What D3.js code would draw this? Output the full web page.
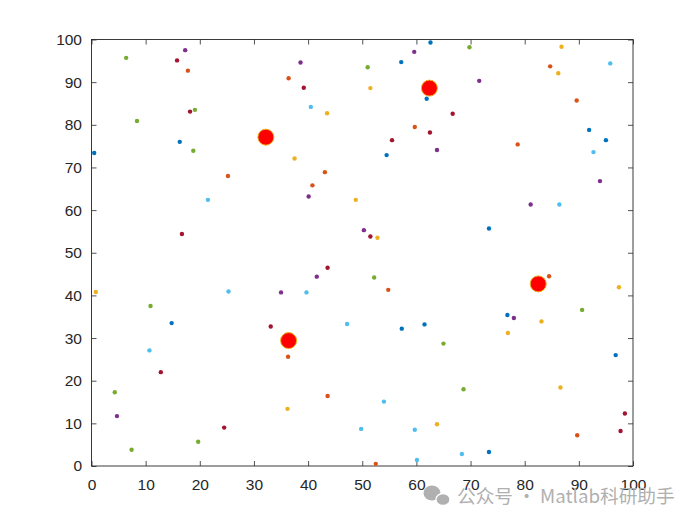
<!DOCTYPE html>
<html>
<head>
<meta charset="utf-8">
<script src="https://cdn.jsdelivr.net/npm/d3@7"></script>
<style>
  body { margin: 0; background: #fff; }
  svg { display: block; }
</style>
</head>
<body>
<script>
// points, grouped by MATLAB colour order
const bluePts = [[0.5,73.4],[16.3,76.0],[62.6,99.3],[57.2,94.7],[61.9,86.1],[54.5,72.9],[91.9,78.8],[95.0,76.4],[73.4,55.7],[14.8,33.5],[76.8,35.4],[57.3,32.2],[61.5,33.2],[96.8,26.0],[73.4,3.3]];
const orangePts = [[17.8,92.7],[36.4,90.9],[25.2,68.0],[43.1,68.9],[40.8,65.8],[59.7,79.5],[84.7,93.7],[89.6,85.7],[78.7,75.4],[36.3,25.6],[43.6,16.4],[54.8,41.3],[84.5,44.5],[89.7,7.2],[52.5,0.5]];
const yellowPts = [[43.5,82.7],[37.5,72.1],[48.8,62.4],[51.5,88.6],[86.8,98.3],[86.2,92.1],[52.8,53.5],[0.8,40.8],[36.2,13.4],[97.4,41.9],[83.1,33.9],[76.9,31.2],[86.6,18.4],[63.8,9.8]];
const purplePts = [[17.3,97.5],[38.6,94.6],[40.1,63.2],[50.3,55.3],[59.6,97.1],[71.6,90.3],[63.8,74.1],[93.9,66.8],[81.1,61.3],[35.0,40.7],[41.6,44.4],[4.7,11.7],[78.0,34.7]];
const greenPts = [[6.4,95.7],[8.4,80.9],[19.1,83.5],[18.8,73.9],[69.8,98.2],[51.0,93.5],[10.9,37.5],[4.3,17.3],[19.7,5.7],[7.4,3.8],[52.2,44.2],[90.6,36.6],[65.0,28.7],[68.7,18.0]];
const cyanPts = [[40.5,84.2],[21.5,62.4],[95.8,94.4],[92.7,73.6],[86.4,61.3],[25.3,40.9],[39.7,40.7],[47.2,33.3],[10.7,27.1],[49.8,8.7],[54.0,15.1],[59.7,8.5],[68.4,2.8],[60.1,1.4]];
const darkredPts = [[15.8,95.1],[39.2,88.7],[18.2,83.1],[16.7,54.4],[66.7,82.6],[62.5,78.2],[55.5,76.4],[51.5,53.8],[43.6,46.5],[33.1,32.7],[12.8,22.0],[24.5,9.0],[98.5,12.3],[97.7,8.2]];
const bigPts = [[32.2,77.1],[62.4,88.6],[36.4,29.4],[82.5,42.7]];
const tickVals = [0,10,20,30,40,50,60,70,80,90,100];

const series = [
  {pts: bluePts, color: "#0072BD"},
  {pts: orangePts, color: "#D95319"},
  {pts: yellowPts, color: "#EDB120"},
  {pts: purplePts, color: "#7E2F8E"},
  {pts: greenPts, color: "#77AC30"},
  {pts: cyanPts, color: "#4DBEEE"},
  {pts: darkredPts, color: "#A2142F"}
];

const W = 700, H = 525;
const m = {left: 91.5, right: 67, top: 39.5, bottom: 59};

const svg = d3.select("body").append("svg")
  .attr("width", W).attr("height", H)
  .style("font-family", "'Liberation Sans', Arial, sans-serif");

const x = d3.scaleLinear().domain([0, 100]).range([m.left, W - m.right]);
const y = d3.scaleLinear().domain([0, 100]).range([H - m.bottom, m.top]);

const axisColor = "#262626";
const tl = 5;

function styleAxis(g) {
  g.select(".domain").remove();
  g.selectAll(".tick line").attr("stroke", axisColor).attr("stroke-width", 0.8);
  g.selectAll(".tick text").attr("fill", axisColor).style("font-size", "15.5px");
}

// bottom / left with labels, top / right ticks only (inward)
svg.append("g").attr("transform", `translate(0,${y(0)})`)
  .call(d3.axisBottom(x).tickValues(tickVals).tickSizeInner(-tl).tickSizeOuter(0).tickPadding(13))
  .call(styleAxis);
svg.append("g").attr("transform", `translate(${x(0)},0)`)
  .call(d3.axisLeft(y).tickValues(tickVals).tickSizeInner(-tl).tickSizeOuter(0).tickPadding(9.5))
  .call(styleAxis);
svg.append("g").attr("transform", `translate(0,${y(100)})`)
  .call(d3.axisTop(x).tickValues(tickVals).tickSizeInner(-tl).tickSizeOuter(0).tickFormat(""))
  .call(styleAxis);
svg.append("g").attr("transform", `translate(${x(100)},0)`)
  .call(d3.axisRight(y).tickValues(tickVals).tickSizeInner(-tl).tickSizeOuter(0).tickFormat(""))
  .call(styleAxis);

svg.append("rect")
  .attr("x", x(0)).attr("y", y(100))
  .attr("width", x(100) - x(0)).attr("height", y(0) - y(100))
  .attr("fill", "none").attr("stroke", axisColor).attr("stroke-width", 0.9);

// small dots
series.forEach(s => {
  svg.append("g").selectAll("circle")
    .data(s.pts).join("circle")
    .attr("cx", d => x(d[0])).attr("cy", d => y(d[1]))
    .attr("r", 2.2).attr("fill", s.color);
});

// highlighted points
svg.append("g").selectAll("circle")
  .data(bigPts).join("circle")
  .attr("cx", d => x(d[0])).attr("cy", d => y(d[1]))
  .attr("r", 8).attr("fill", "#ff0000")
  .attr("stroke", "#EDB120").attr("stroke-width", 1);

// watermark
const wm = svg.append("g").attr("fill", "#b0b0b0");
wm.append("ellipse").attr("cx", 432).attr("cy", 493).attr("rx", 8.5).attr("ry", 7.5);
wm.append("ellipse").attr("cx", 443).attr("cy", 499.5).attr("rx", 7).attr("ry", 6)
  .attr("stroke", "#fff").attr("stroke-width", 1.3);
wm.append("text").attr("x", 457).attr("y", 503)
  .style("font-family", "'Noto Sans CJK SC', sans-serif").style("font-size", "18.7px")
  .text("公众号 · Matlab科研助手");
</script>
</body>
</html>
